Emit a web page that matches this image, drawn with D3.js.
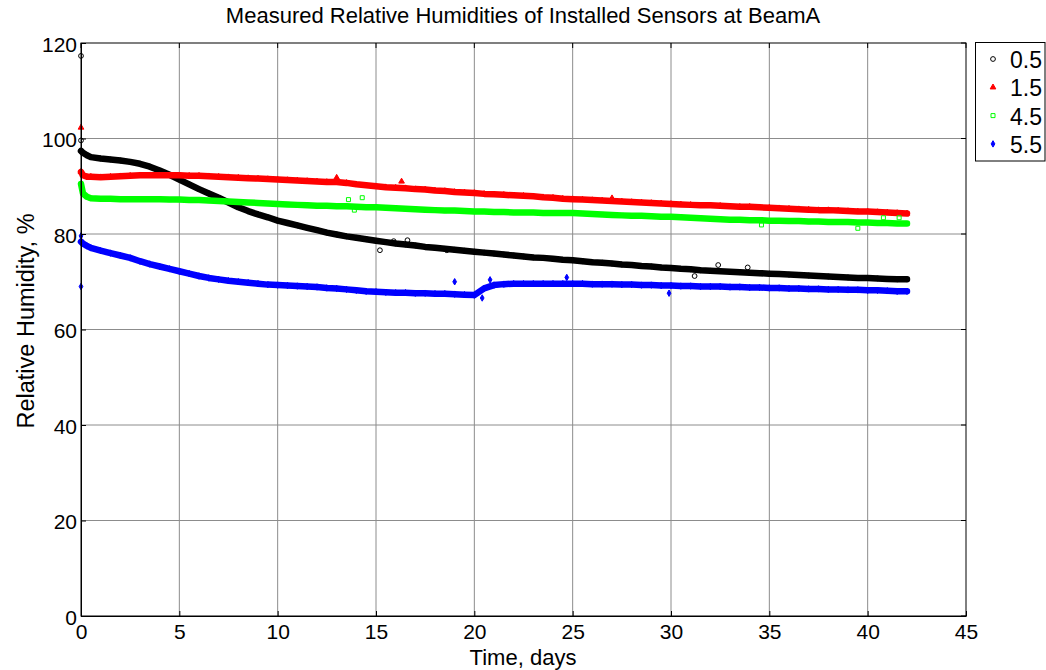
<!DOCTYPE html>
<html>
<head>
<meta charset="utf-8">
<script src="https://cdn.jsdelivr.net/npm/d3@7"></script>
<style>
  html, body { margin: 0; padding: 0; background: #fff; }
  svg { display: block; font-family: "Liberation Sans", Arial, sans-serif; }
</style>
</head>
<body>
<svg id="chart" width="1046" height="670"></svg>
<script>
// Sampling times (days) for the sensor readings
const days = [0, 0.1, 0.3].concat(d3.range(0.5, 42.01, 0.5));

// Relative humidity (%) per sensor depth
const rh05 = [97.4, 97.0, 96.5, 96.1, 95.8, 95.6, 95.4, 95.1, 94.7, 94.1, 93.3, 92.4, 91.4, 90.4, 89.4, 88.5,
  87.6, 86.6, 85.6, 84.8, 84.1, 83.5, 82.8, 82.3, 81.8, 81.3, 80.8, 80.3, 79.9, 79.5, 79.2, 78.9, 78.6, 78.3,
  78.0, 77.8, 77.6, 77.3, 77.1, 76.9, 76.7, 76.5, 76.3, 76.1, 75.9, 75.7, 75.5, 75.3, 75.1, 75.0, 74.8, 74.6,
  74.5, 74.3, 74.1, 74.0, 73.8, 73.6, 73.5, 73.3, 73.2, 73.0, 72.9, 72.7, 72.6, 72.4, 72.3, 72.2, 72.1, 72.0,
  71.9, 71.8, 71.7, 71.6, 71.5, 71.4, 71.3, 71.2, 71.1, 71.0, 70.9, 70.8, 70.8, 70.7, 70.6, 70.5, 70.5];
const rh15 = [93.0, 92.3, 92.0, 92.0, 91.9, 92.0, 92.1, 92.2, 92.3, 92.3, 92.3, 92.3, 92.3, 92.2, 92.2, 92.1,
  92.0, 91.9, 91.8, 91.7, 91.6, 91.5, 91.4, 91.3, 91.2, 91.1, 91.0, 90.9, 90.9, 90.7, 90.4, 90.2, 90.0, 89.8,
  89.7, 89.6, 89.4, 89.3, 89.1, 89.0, 88.8, 88.7, 88.6, 88.4, 88.3, 88.2, 88.1, 88.0, 87.9, 87.7, 87.6, 87.4,
  87.3, 87.2, 87.1, 87.0, 86.9, 86.8, 86.7, 86.6, 86.5, 86.4, 86.3, 86.2, 86.1, 86.0, 86.0, 85.9, 85.8, 85.7,
  85.7, 85.6, 85.5, 85.4, 85.3, 85.2, 85.1, 85.0, 85.0, 84.9, 84.8, 84.7, 84.7, 84.6, 84.5, 84.4, 84.3];
const rh45 = [90.5, 88.5, 87.8, 87.5, 87.4, 87.4, 87.3, 87.3, 87.3, 87.3, 87.3, 87.2, 87.2, 87.1, 87.1, 87.0,
  86.9, 86.8, 86.7, 86.6, 86.5, 86.4, 86.3, 86.2, 86.1, 86.0, 85.9, 85.9, 85.8, 85.8, 85.7, 85.6, 85.6, 85.5,
  85.4, 85.3, 85.2, 85.1, 85.0, 84.9, 84.9, 84.8, 84.7, 84.7, 84.6, 84.6, 84.5, 84.5, 84.5, 84.4, 84.4, 84.4,
  84.4, 84.3, 84.2, 84.1, 84.0, 83.9, 83.8, 83.8, 83.7, 83.6, 83.6, 83.5, 83.4, 83.3, 83.2, 83.1, 83.0, 83.0,
  82.9, 82.9, 82.8, 82.8, 82.7, 82.7, 82.6, 82.6, 82.5, 82.5, 82.5, 82.4, 82.4, 82.3, 82.3, 82.2, 82.2];
const rh55 = [78.4, 78.0, 77.5, 77.1, 76.5, 76.0, 75.5, 75.0, 74.3, 73.7, 73.2, 72.7, 72.2, 71.7, 71.2, 70.8,
  70.5, 70.2, 70.0, 69.8, 69.6, 69.4, 69.3, 69.2, 69.1, 69.0, 68.9, 68.7, 68.6, 68.4, 68.2, 68.0, 67.9, 67.8,
  67.7, 67.7, 67.6, 67.6, 67.5, 67.5, 67.4, 67.3, 67.2, 68.6, 69.3, 69.5, 69.6, 69.6, 69.6, 69.6, 69.6, 69.6,
  69.6, 69.6, 69.5, 69.5, 69.5, 69.4, 69.4, 69.3, 69.3, 69.2, 69.2, 69.1, 69.1, 69.0, 69.0, 69.0, 68.9, 68.9,
  68.8, 68.8, 68.7, 68.7, 68.6, 68.6, 68.5, 68.5, 68.4, 68.4, 68.3, 68.3, 68.2, 68.2, 68.1, 68.0, 68.0];

// Isolated readings that sit away from each sensor's main trend: [day, RH]
const stray05 = [[0, 117.3], [0, 99.6], [15.2, 76.6], [15.9, 78.5], [16.6, 78.7], [18.6, 76.6], [31.2, 71.2], [32.4, 73.5], [33.9, 73.0]];
const stray15 = [[0, 102.3], [13.0, 91.8], [13.6, 90.6], [16.3, 91.0], [27.0, 87.5]];
const stray45 = [[13.6, 87.2], [13.9, 85.0], [14.3, 87.6], [34.6, 81.9], [39.5, 81.2], [40.8, 83.4], [41.6, 83.4]];
const stray55 = [[0, 69.0], [0, 79.6], [19.0, 70.0], [20.4, 66.6], [20.8, 70.4], [24.7, 70.9], [29.9, 67.6]];

const seriesNames = ["0.5", "1.5", "4.5", "5.5"];
const seriesColors = ["#000000", "#ff0000", "#00ff00", "#0000ff"];
const seriesShapes = ["circle", "triangle", "square", "diamond"];
const xTicks = d3.range(0, 46, 5);
const yTicks = d3.range(0, 121, 20);

const series = [
  { values: rh05, strays: stray05 },
  { values: rh15, strays: stray15 },
  { values: rh45, strays: stray45 },
  { values: rh55, strays: stray55 }
].map((s, i) => Object.assign(s, { name: seriesNames[i], color: seriesColors[i], shape: seriesShapes[i] }));

const svg = d3.select("#chart");
const x = d3.scaleLinear().domain([0, 45]).range([81, 966]);
const y = d3.scaleLinear().domain([0, 120]).range([616, 43]);

// grid
const grid = svg.append("g");
grid.selectAll("line.gx").data(xTicks.slice(1, -1)).join("line")
  .attr("x1", d => x(d)).attr("x2", d => x(d))
  .attr("y1", y(0)).attr("y2", y(120))
  .attr("stroke", "#8c8c8c").attr("stroke-width", 1);
grid.selectAll("line.gy").data(yTicks.slice(1, -1)).join("line")
  .attr("y1", d => y(d)).attr("y2", d => y(d))
  .attr("x1", x(0)).attr("x2", x(45))
  .attr("stroke", "#8c8c8c").attr("stroke-width", 1);

// marker symbols
const symType = { circle: d3.symbolCircle, triangle: d3.symbolTriangle, square: d3.symbolSquare, diamond: d3.symbolDiamond };
const symSize = { circle: 18, triangle: 14, square: 16, diamond: 12 };

const line = d3.line().x((d, i) => x(days[i])).y(d => y(d));

const plot = svg.append("g");
series.forEach(s => {
  const g = plot.append("g");
  // dense band of readings
  g.append("path").datum(s.values)
    .attr("d", line)
    .attr("fill", "none")
    .attr("stroke", s.color)
    .attr("stroke-width", 6.5)
    .attr("stroke-linejoin", "round")
    .attr("stroke-linecap", "round");
  const pts = s.values.map((v, i) => [days[i], v]).concat(s.strays);
  const sym = d3.symbol().type(symType[s.shape]).size(symSize[s.shape]);
  const open = s.shape === "circle" || s.shape === "square";
  g.selectAll("path.m").data(pts).join("path")
    .attr("transform", d => `translate(${x(d[0])},${y(d[1])})`)
    .attr("d", sym)
    .attr("fill", open ? "none" : s.color)
    .attr("stroke", s.color)
    .attr("stroke-width", 1);
});

// axes box with inward ticks
const axes = svg.append("g");
axes.append("rect")
  .attr("x", x(0)).attr("y", y(120))
  .attr("width", x(45) - x(0)).attr("height", y(0) - y(120))
  .attr("fill", "none").attr("stroke", "#000").attr("stroke-width", 1);

const xAxis = d3.axisBottom(x).tickValues(xTicks).tickSizeInner(-5).tickSizeOuter(0);
const gx = axes.append("g").attr("transform", `translate(0,${y(0)})`).call(xAxis);
const yAxis = d3.axisLeft(y).tickValues(yTicks).tickSizeInner(-5).tickSizeOuter(0);
const gy = axes.append("g").attr("transform", `translate(${x(0)},0)`).call(yAxis);
[gx, gy].forEach(g => {
  g.select(".domain").attr("stroke", "#000");
  g.selectAll(".tick line").attr("stroke", "#000");
  g.selectAll(".tick text").attr("font-size", 21).attr("font-family", "Liberation Sans, Arial, sans-serif").attr("fill", "#000");
});
gx.selectAll(".tick text").attr("y", 23).attr("dy", 0);
gy.selectAll(".tick text").attr("x", -4).attr("dy", 0).attr("y", 8);
// top/right ticks
axes.selectAll("line.tt").data(xTicks).join("line")
  .attr("x1", d => x(d)).attr("x2", d => x(d)).attr("y1", y(120)).attr("y2", y(120) + 5).attr("stroke", "#000");
axes.selectAll("line.rt").data(yTicks).join("line")
  .attr("y1", d => y(d)).attr("y2", d => y(d)).attr("x1", x(45)).attr("x2", x(45) - 5).attr("stroke", "#000");

// title and axis labels
svg.append("text").attr("x", 523).attr("y", 23).attr("text-anchor", "middle")
  .attr("font-size", 22).text("Measured Relative Humidities of Installed Sensors at BeamA");
svg.append("text").attr("x", 523).attr("y", 665).attr("text-anchor", "middle")
  .attr("font-size", 22).text("Time, days");
svg.append("text").attr("transform", "translate(34,321) rotate(-90)").attr("text-anchor", "middle")
  .attr("font-size", 23.5).text("Relative Humidity, %");

// legend
const leg = svg.append("g");
leg.append("rect").attr("x", 975.5).attr("y", 42.5).attr("width", 69.5).attr("height", 118.5)
  .attr("fill", "#fff").attr("stroke", "#000");
series.forEach((s, i) => {
  const cy = 59 + i * 28.3;
  leg.append("path")
    .attr("transform", `translate(993,${cy})`)
    .attr("d", d3.symbol().type(symType[s.shape]).size(symSize[s.shape])())
    .attr("fill", (s.shape === "circle" || s.shape === "square") ? "none" : s.color)
    .attr("stroke", s.color);
  leg.append("text").attr("x", 1010).attr("y", cy + 9).attr("font-size", 23).text(s.name);
});
</script>
</body>
</html>
